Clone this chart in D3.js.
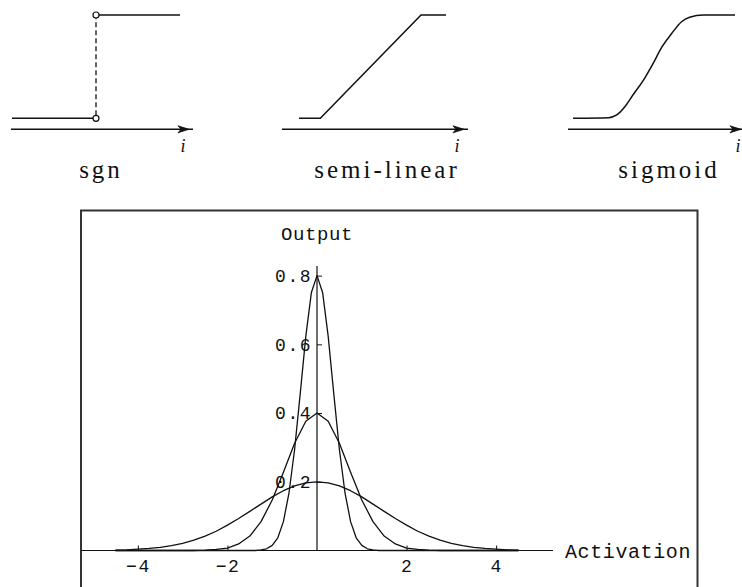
<!DOCTYPE html>
<html>
<head>
<meta charset="utf-8">
<script src="https://cdn.jsdelivr.net/npm/d3@7/dist/d3.min.js"></script>
<style>
  html, body { margin: 0; padding: 0; background: #fff; }
  svg { display: block; }
</style>
</head>
<body>
<svg id="chart" width="742" height="587"></svg>
<script>
// ---- Activation function sketches (input i -> output, output in [0,1]) ----
const panelNames = ["sgn", "semi-linear", "sigmoid"];
const sgnLower = [[-1, 0], [0, 0]];
const sgnUpper = [[0, 1], [1, 1]];
const semiLinear = [[-1, 0], [-0.71, 0], [0.66, 1], [1, 1]];
const sigmoid = [
  [-1, 0], [-0.56, 0.006], [-0.46, 0.032], [-0.36, 0.112], [-0.26, 0.226],
  [-0.13, 0.37], [-0.01, 0.532], [0.1, 0.693], [0.22, 0.823], [0.34, 0.935],
  [0.44, 0.978], [0.61, 1], [1, 1]
];

// ---- Bell-shaped output curves against activation ----
const wideX = [-4.5,-4.25,-4,-3.75,-3.5,-3.25,-3,-2.75,-2.5,-2.25,-2,-1.75,-1.5,-1.25,-1,-0.75,-0.5,-0.25,0,
               0.25,0.5,0.75,1,1.25,1.5,1.75,2,2.25,2.5,2.75,3,3.25,3.5,3.75,4,4.25,4.5];
const wideY = [0.001,0.002,0.004,0.006,0.009,0.014,0.021,0.030,0.042,0.056,0.074,0.093,0.114,0.135,0.156,0.174,0.188,0.197,0.200,
               0.197,0.188,0.174,0.156,0.135,0.114,0.093,0.074,0.056,0.042,0.030,0.021,0.014,0.009,0.006,0.004,0.002,0.001];
const midY  = [0,0,0,0,0,0,0,0,0.001,0.003,0.007,0.019,0.042,0.084,0.147,0.228,0.312,0.376,0.400,
               0.376,0.312,0.228,0.147,0.084,0.042,0.019,0.007,0.003,0.001,0,0,0,0,0,0,0,0];
const narrowX = [-4.5,-1.5,-1.375,-1.25,-1.125,-1,-0.875,-0.75,-0.625,-0.5,-0.375,-0.25,-0.125,0,
                 0.125,0.25,0.375,0.5,0.625,0.75,0.875,1,1.125,1.25,1.375,1.5,4.5];
const narrowY = [0,0,0,0.002,0.005,0.015,0.037,0.084,0.168,0.294,0.456,0.623,0.751,0.800,
                 0.751,0.623,0.456,0.294,0.168,0.084,0.037,0.015,0.005,0.002,0,0,0];

const xMajor = [-4, -2, 2, 4];
const yMajor = [0.2, 0.4, 0.6, 0.8];
const xLabel = "Activation";
const yLabel = "Output";

const svg = d3.select("#chart");
const ink = "#111";

// ================= top row: three sketches =================
const panels = [
  { range: [12, 180], axis: [11, 193], labelX: 101, iX: 183 },
  { range: [299, 446], axis: [282, 468], labelX: 387, iX: 457 },
  { range: [573, 735], axis: [568, 745], labelX: 669, iX: 738 }
];
const sy = d3.scaleLinear().domain([0, 1]).range([118.3, 15]);
const axisY = 129.3;

panels.forEach((p, k) => {
  const sx = d3.scaleLinear().domain([-1, 1]).range(p.range);
  const line = d3.line().x(d => sx(d[0])).y(d => sy(d[1]));
  const g = svg.append("g");

  // i axis with arrow
  g.append("line")
    .attr("x1", p.axis[0]).attr("x2", p.axis[1])
    .attr("y1", axisY).attr("y2", axisY)
    .attr("stroke", ink).attr("stroke-width", 1.6);
  const tip = p.axis[1] - 4;
  g.append("path")
    .attr("d", `M${tip},${axisY} L${tip - 11},${axisY - 3.5} L${tip - 8},${axisY} L${tip - 11},${axisY + 3.5} Z`)
    .attr("fill", ink).attr("stroke", ink).attr("stroke-width", 0.8);

  g.append("text")
    .attr("x", p.iX).attr("y", 152)
    .attr("text-anchor", "middle")
    .attr("font-family", "Liberation Serif, serif")
    .attr("font-style", "italic")
    .attr("font-size", 18)
    .attr("fill", ink)
    .text("i");

  g.append("text")
    .attr("x", p.labelX).attr("y", 178)
    .attr("text-anchor", "middle")
    .attr("font-family", "Liberation Serif, serif")
    .attr("font-size", 25)
    .attr("letter-spacing", 3)
    .attr("fill", ink)
    .text(panelNames[k]);

  const curveStyle = sel => sel.attr("fill", "none").attr("stroke", ink).attr("stroke-width", 1.5);

  if (k === 0) {
    g.append("path").attr("d", line(sgnLower)).call(curveStyle);
    g.append("path").attr("d", line(sgnUpper)).call(curveStyle);
    g.append("line")
      .attr("x1", sx(0)).attr("x2", sx(0))
      .attr("y1", sy(0) - 3).attr("y2", sy(1) + 3)
      .attr("stroke", ink).attr("stroke-width", 1.3)
      .attr("stroke-dasharray", "5,3");
    [0, 1].forEach(v => {
      g.append("circle")
        .attr("cx", sx(0)).attr("cy", sy(v)).attr("r", 3)
        .attr("fill", "#fff").attr("stroke", ink).attr("stroke-width", 1.2);
    });
  } else if (k === 1) {
    g.append("path").attr("d", line(semiLinear)).call(curveStyle);
  } else {
    g.append("path").attr("d", line.curve(d3.curveMonotoneX)(sigmoid)).call(curveStyle);
  }
});

// ================= bottom: output vs activation =================
svg.append("rect")
  .attr("x", 81).attr("y", 210.5)
  .attr("width", 616.5).attr("height", 420)
  .attr("fill", "none").attr("stroke", "#333").attr("stroke-width", 2);

const x = d3.scaleLinear().domain([-5.27, 5.27]).range([81, 553]);
const y = d3.scaleLinear().domain([0, 0.828]).range([550.5, 266]);

const tickFont = "Liberation Mono, Courier New, monospace";

// minor ticks
const xMinor = d3.range(-13, 14).map(n => +(n * 0.4).toFixed(2)).filter(v => v !== 0 && !xMajor.includes(v));
const yMinor = d3.range(1, 21).map(n => +(n * 0.04).toFixed(2)).filter(v => !yMajor.includes(v));

const xAxisG = svg.append("g").attr("transform", `translate(0,${y(0)})`);
xAxisG.call(d3.axisBottom(x).tickValues(xMinor).tickSize(-3).tickFormat("").tickSizeOuter(0));
xAxisG.call(d3.axisBottom(x).tickValues(xMajor).tickSize(-5).tickPadding(9).tickSizeOuter(0)
  .tickFormat(d => d3.format("d")(d)));
xAxisG.select(".domain").remove();

const yAxisG = svg.append("g").attr("transform", `translate(${x(0)},0)`);
yAxisG.call(d3.axisLeft(y).tickValues(yMinor).tickSize(-3).tickFormat("").tickSizeOuter(0));
yAxisG.call(d3.axisLeft(y).tickValues(yMajor).tickSize(-5).tickPadding(5).tickSizeOuter(0)
  .tickFormat(d3.format(".1f")));
yAxisG.select(".domain").remove();

svg.selectAll(".tick line").attr("stroke", ink).attr("stroke-width", 1);
svg.selectAll(".tick text")
  .attr("font-family", tickFont).attr("font-size", 18)
  .attr("letter-spacing", 1.5).attr("fill", ink);

// axis lines
svg.append("line")
  .attr("x1", 81).attr("x2", 553).attr("y1", y(0)).attr("y2", y(0))
  .attr("stroke", ink).attr("stroke-width", 1.2);
svg.append("line")
  .attr("x1", x(0)).attr("x2", x(0)).attr("y1", y(0)).attr("y2", y(0.828))
  .attr("stroke", ink).attr("stroke-width", 1.2);

// curves
const curve = d3.line().x(d => x(d[0])).y(d => y(d[1]));
const series = [
  wideX.map((v, i) => [v, wideY[i]]),
  wideX.map((v, i) => [v, midY[i]]),
  narrowX.map((v, i) => [v, narrowY[i]])
];
svg.append("g").selectAll("path").data(series).join("path")
  .attr("d", curve)
  .attr("fill", "none").attr("stroke", ink).attr("stroke-width", 1.3)
  .attr("stroke-linejoin", "round");

// axis titles
svg.append("text")
  .attr("x", x(0)).attr("y", 240)
  .attr("text-anchor", "middle")
  .attr("font-family", tickFont).attr("font-size", 19)
  .attr("letter-spacing", 0.6).attr("fill", ink)
  .text(yLabel);
svg.append("text")
  .attr("x", 565).attr("y", y(0) + 7)
  .attr("font-family", tickFont).attr("font-size", 20)
  .attr("letter-spacing", 0.6).attr("fill", ink)
  .text(xLabel);
</script>
</body>
</html>
